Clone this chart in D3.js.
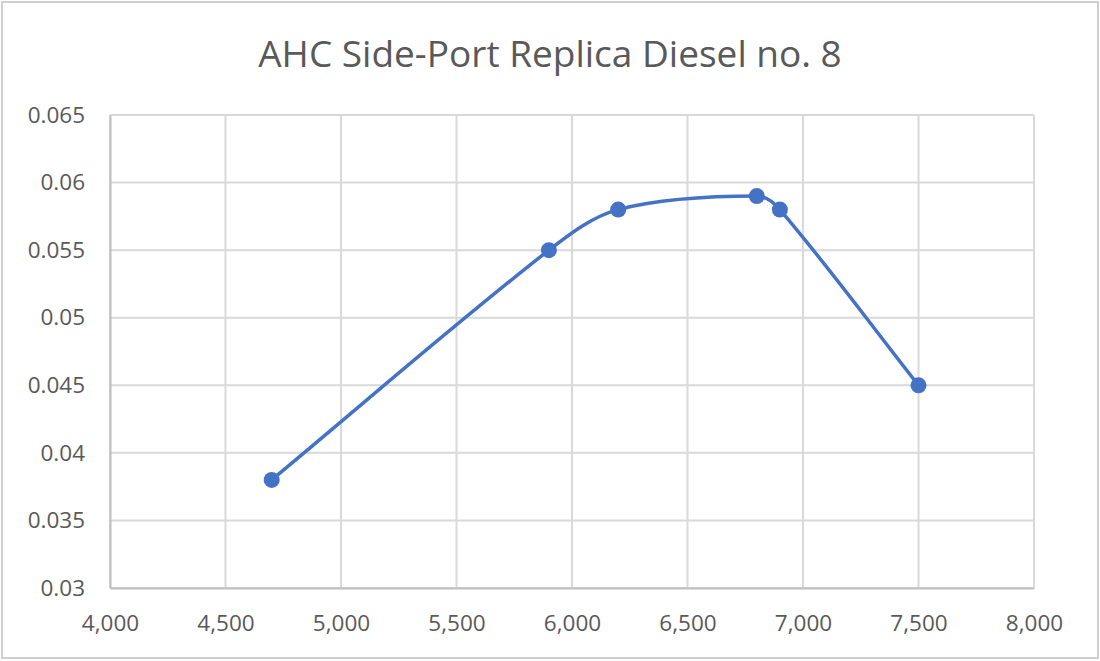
<!DOCTYPE html>
<html><head><meta charset="utf-8">
<script src="https://cdn.jsdelivr.net/npm/d3@7"></script>
<style>body{margin:0;background:#fff}svg{display:block}</style>
</head><body>
<script>
const title = "AHC Side-Port Replica Diesel no. 8";
const xValues = [4700, 5900, 6200, 6800, 6900, 7500];
const yValues = [0.038, 0.055, 0.058, 0.059, 0.058, 0.045];
const xTicks = [4000, 4500, 5000, 5500, 6000, 6500, 7000, 7500, 8000];
const yTicks = [0.03, 0.035, 0.04, 0.045, 0.05, 0.055, 0.06, 0.065];

const W = 1100, H = 661;
const m = {left: 110, right: 1034, top: 115, bottom: 588};
const font = "'Open Sans', 'Noto Sans', sans-serif";

// Smoothing curve: tangent through neighbours, split in proportion to adjacent segment lengths
function smoothCurve(context) {
  let p = [];
  return {
    areaStart() {}, areaEnd() {},
    lineStart() { p = []; },
    point(x, y) { p.push([+x, +y]); },
    lineEnd() {
      const n = p.length;
      if (!n) return;
      const tin = [], tout = [];
      for (let i = 0; i < n; i++) {
        const P0 = p[i - 1] || p[i], P2 = p[i + 1] || p[i];
        const d01 = Math.hypot(p[i][0] - P0[0], p[i][1] - P0[1]);
        const d12 = Math.hypot(P2[0] - p[i][0], P2[1] - p[i][1]);
        const s = d01 + d12 || 1;
        const v = [P2[0] - P0[0], P2[1] - P0[1]];
        tin.push([v[0] * d01 / s / 3, v[1] * d01 / s / 3]);
        tout.push([v[0] * d12 / s / 3, v[1] * d12 / s / 3]);
      }
      context.moveTo(p[0][0], p[0][1]);
      for (let i = 0; i < n - 1; i++) {
        const P1 = p[i], P2 = p[i + 1];
        context.bezierCurveTo(P1[0] + tout[i][0], P1[1] + tout[i][1],
          P2[0] - tin[i + 1][0], P2[1] - tin[i + 1][1], P2[0], P2[1]);
      }
    }
  };
}

const svg = d3.select("body").append("svg").attr("width", W).attr("height", H);
svg.append("rect").attr("x", 2).attr("y", 2).attr("width", W - 4).attr("height", H - 5)
  .attr("fill", "#fff").attr("stroke", "#d0d0d0").attr("stroke-width", 2);

const x = d3.scaleLinear().domain([4000, 8000]).range([m.left, m.right]);
const y = d3.scaleLinear().domain([0.03, 0.065]).range([m.bottom, m.top]);

// grid
svg.append("g").selectAll("line").data(xTicks).join("line")
  .attr("x1", d => x(d)).attr("x2", d => x(d)).attr("y1", m.top).attr("y2", m.bottom)
  .attr("stroke", "#d9d9d9").attr("stroke-width", 2);
svg.append("g").selectAll("line").data(yTicks).join("line")
  .attr("x1", m.left).attr("x2", m.right).attr("y1", d => y(d)).attr("y2", d => y(d))
  .attr("stroke", "#d9d9d9").attr("stroke-width", 2);

// axes
const xAxis = svg.append("g").attr("transform", `translate(0,${m.bottom})`)
  .call(d3.axisBottom(x).tickValues(xTicks).tickFormat(d3.format(",")).tickSize(0).tickPadding(27));
xAxis.select(".domain").attr("stroke", "#bfbfbf").attr("stroke-width", 2);
xAxis.selectAll("text").attr("font-family", font).attr("font-size", 22.5).attr("fill", "#595959");

const yAxis = svg.append("g").attr("transform", `translate(${m.left},0)`)
  .call(d3.axisLeft(y).tickValues(yTicks).tickFormat(d => String(+d.toFixed(3))).tickSize(0).tickPadding(25));
yAxis.select(".domain").attr("stroke", "#bfbfbf").attr("stroke-width", 2);
yAxis.selectAll("text").attr("font-family", font).attr("font-size", 22.5).attr("fill", "#595959");

// title
svg.append("text").attr("x", 550).attr("y", 67)
  .attr("text-anchor", "middle").attr("font-family", font).attr("font-size", 37)
  .attr("fill", "#595959").text(title);

// series
const pts = xValues.map((v, i) => [v, yValues[i]]);
const line = d3.line().x(d => x(d[0])).y(d => y(d[1])).curve(smoothCurve);
svg.append("path").datum(pts).attr("d", line).attr("fill", "none")
  .attr("stroke", "#4472c4").attr("stroke-width", 3.5).attr("stroke-linejoin", "round").attr("stroke-linecap", "round");
svg.append("g").selectAll("circle").data(pts).join("circle")
  .attr("cx", d => x(d[0])).attr("cy", d => y(d[1])).attr("r", 8).attr("fill", "#4472c4");
</script>
</body></html>
